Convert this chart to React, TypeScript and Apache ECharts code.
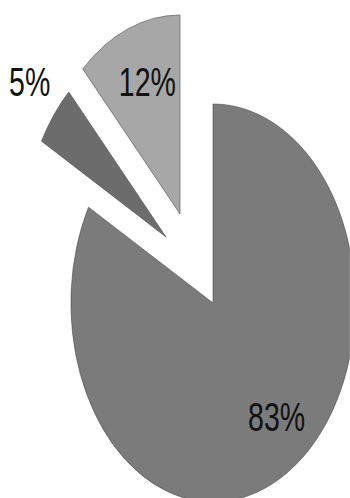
import React, { useEffect, useRef } from "react";
import * as echarts from "echarts";

// Slice data (clockwise from 12 o'clock)
const sliceNames = ["Main", "Small", "Medium"];
const sliceValues = [83, 5, 12];
const sliceColors = ["#7b7b7b", "#6c6c6c", "#a7a7a7"];

// Horizontal squash of the whole drawing (the original pie is an upright ellipse)
const SQUASH = 0.714;
const BASE_W = 350 / SQUASH;
const H = 498;
const RADIUS = 199;
// Per-slice pie centres (unsquashed px) — exploded slices are pulled out
const centers: [number, number][] = [
  [213 / SQUASH, 303],
  [213 / SQUASH - 65.8, 237],
  [213 / SQUASH - 46.2, 214],
];
// Label nudges from the default inside position
const labelShift: [number, number][] = [
  [37, 26],
  [-110, -92],
  [-8, -37],
];

export default function App() {
  const ref = useRef<HTMLDivElement>(null);
  useEffect(() => {
    document.body.style.margin = "0";
    document.body.style.overflow = "hidden";
    if (!ref.current) return;
    const chart = echarts.init(ref.current, null, { renderer: "svg" });
    const series = sliceValues.map((_, i) => ({
      type: "pie" as const,
      radius: RADIUS,
      center: centers[i],
      startAngle: 90,
      clockwise: true,
      avoidLabelOverlap: false,
      silent: true,
      labelLine: { show: false },
      labelLayout: { dx: labelShift[i][0], dy: labelShift[i][1] },
      data: sliceValues.map((v, j) => ({
        name: sliceNames[j],
        value: v,
        itemStyle:
          j === i
            ? { color: sliceColors[j], borderColor: "#4a4a4a", borderWidth: 0.7 }
            : { color: "transparent", borderWidth: 0 },
        label: {
          show: j === i,
          position: "inside",
          formatter: "{c}%",
          color: "#111",
          fontSize: 40,
          fontFamily: "'Liberation Sans', Arial, Helvetica, sans-serif",
        },
      })),
    }));
    chart.setOption({ animation: false, series });
    return () => chart.dispose();
  }, []);
  return (
    <div
      ref={ref}
      style={{
        position: "absolute",
        left: 0,
        top: 0,
        width: BASE_W,
        height: H,
        transform: `scaleX(${SQUASH})`,
        transformOrigin: "0 0",
        background: "#fff",
      }}
    />
  );
}
